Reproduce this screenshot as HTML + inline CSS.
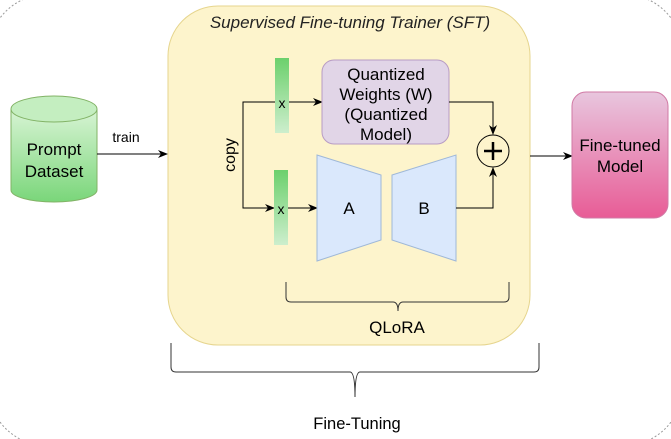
<!DOCTYPE html>
<html><head><style>
body{margin:0;background:#fff;}
svg{display:block;font-family:"Liberation Sans",Arial,sans-serif;}
</style></head><body>
<svg width="671" height="439" viewBox="0 0 671 439" xmlns="http://www.w3.org/2000/svg">
<defs>
<linearGradient id="gg" x1="0" y1="0" x2="0" y2="1"><stop offset="0" stop-color="#d8f4d4"/><stop offset="1" stop-color="#7ad67a"/></linearGradient>
<linearGradient id="bar" x1="0" y1="0" x2="0" y2="1"><stop offset="0" stop-color="#6cd06c"/><stop offset="1" stop-color="#cdeecd"/></linearGradient>
<linearGradient id="pg" x1="0" y1="0" x2="0" y2="1"><stop offset="0" stop-color="#e8c6de"/><stop offset="1" stop-color="#e85c96"/></linearGradient>
<marker id="ar" markerWidth="10" markerHeight="8" refX="9" refY="4" orient="auto" markerUnits="userSpaceOnUse"><path d="M0,0 L10,4 L0,8 L3,4 Z" fill="#000"/></marker>
</defs>
<rect x="-12" y="-6" width="695" height="452" rx="60" fill="none" stroke="#999" stroke-width="1" stroke-dasharray="2,2"/>
<rect x="168" y="6" width="362" height="339" rx="50" fill="#fdf4cc" stroke="#e6d58e" stroke-width="1"/>
<text x="350" y="28" text-anchor="middle" font-size="17" font-style="italic" fill="#222">Supervised Fine-tuning Trainer (SFT)</text>
<path d="M11,109 L11,190 A43,12 0 0 0 97,190 L97,109" fill="url(#gg)" stroke="#82b366"/>
<ellipse cx="54" cy="109" rx="43" ry="13" fill="#c4eec0" stroke="#82b366"/>
<text x="54" y="155" text-anchor="middle" font-size="17">Prompt</text>
<text x="54" y="177" text-anchor="middle" font-size="17">Dataset</text>
<line x1="97" y1="154" x2="167" y2="154" stroke="#000" marker-end="url(#ar)"/>
<text x="126" y="142" text-anchor="middle" font-size="14">train</text>
<polyline points="275,102 243,102 243,208 274,208" fill="none" stroke="#000" marker-end="url(#ar)"/>
<line x1="289" y1="102" x2="322" y2="102" stroke="#000" marker-end="url(#ar)"/>
<line x1="288" y1="208" x2="317" y2="208" stroke="#000" marker-end="url(#ar)"/>
<text transform="translate(235,155) rotate(-90)" text-anchor="middle" font-size="16">copy</text>
<rect x="275" y="58" width="14" height="75" fill="url(#bar)"/>
<text x="282" y="108" text-anchor="middle" font-size="14">x</text>
<rect x="274" y="170" width="14" height="75" fill="url(#bar)"/>
<text x="281" y="214" text-anchor="middle" font-size="14">x</text>
<rect x="322" y="60" width="127" height="84" rx="12" fill="#e1d5e7" stroke="#b89cc4"/>
<text x="386" y="80" text-anchor="middle" font-size="17">Quantized</text>
<text x="386" y="100" text-anchor="middle" font-size="17">Weights (W)</text>
<text x="386" y="120" text-anchor="middle" font-size="17">(Quantized</text>
<text x="386" y="140" text-anchor="middle" font-size="17">Model)</text>
<polygon points="317,155 381,175 381,240 317,261" fill="#dae8fc" stroke="#9fb8d8"/>
<polygon points="392,175 456,155 456,261 392,240" fill="#dae8fc" stroke="#9fb8d8"/>
<text x="349" y="214" text-anchor="middle" font-size="17">A</text>
<text x="424" y="214" text-anchor="middle" font-size="17">B</text>
<polyline points="449,102 493,102 493,134" fill="none" stroke="#000" marker-end="url(#ar)"/>
<polyline points="456,208 493,208 493,168" fill="none" stroke="#000" marker-end="url(#ar)"/>
<circle cx="493" cy="151" r="16" fill="#fdf4cc" stroke="#000"/>
<line x1="484" y1="151" x2="502" y2="151" stroke="#000" stroke-width="2.5"/>
<line x1="493" y1="142" x2="493" y2="160" stroke="#000" stroke-width="2.5"/>
<line x1="530" y1="156" x2="572" y2="156" stroke="#000" marker-end="url(#ar)"/>
<rect x="572" y="92" width="96" height="126" rx="14" fill="url(#pg)" stroke="#d17aa5"/>
<text x="620" y="151" text-anchor="middle" font-size="17">Fine-tuned</text>
<text x="620" y="172" text-anchor="middle" font-size="17">Model</text>
<path d="M286,282 L286,297 Q286,302 291,302 L393,302 Q398,302 398,311 Q398,302 403,302 L504,302 Q509,302 509,297 L509,282" fill="none" stroke="#333"/>
<text x="397" y="333" text-anchor="middle" font-size="17">QLoRA</text>
<path d="M171,343 L171,367 Q171,372 176,372 L350,372 Q355,372 355,397 Q355,372 360,372 L534,372 Q539,372 539,367 L539,343" fill="none" stroke="#333"/>
<text x="357" y="429" text-anchor="middle" font-size="16.5">Fine-Tuning</text>
</svg>
</body></html>
